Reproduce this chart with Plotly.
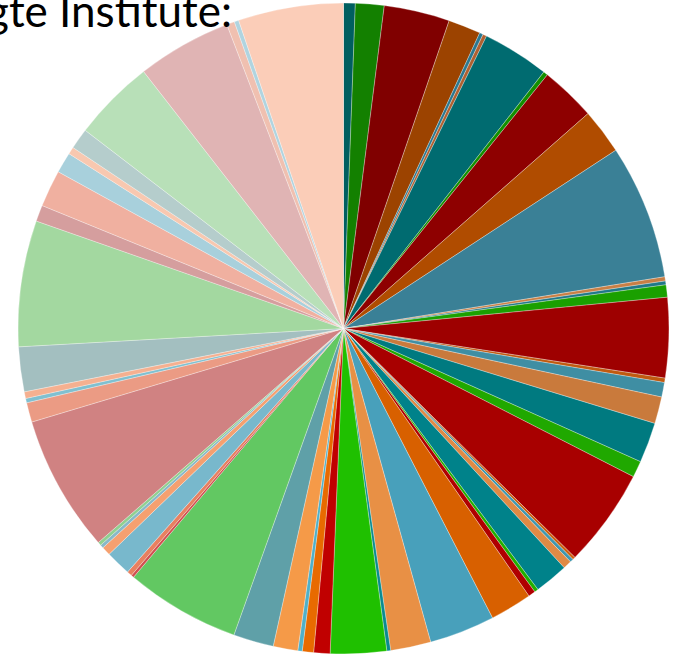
import plotly.graph_objects as go

# slice values (percent of total), clockwise from 12 o'clock
values = [0.58, 1.42, 3.26, 1.61, 0.18, 0.19, 3.31, 0.22, 2.75, 2.25,
          6.68, 0.21, 0.19, 0.61, 3.97, 0.22, 0.72, 1.33, 2.00, 0.81,
          4.89, 0.14, 0.17, 0.42, 1.67, 0.19, 0.35, 2.08, 3.25, 2.00,
          0.19, 2.78, 0.81, 0.56, 0.22, 1.22, 2.00, 5.69, 0.14, 0.25,
          1.25, 0.44, 0.17, 0.17, 6.78, 0.97, 0.22, 0.33, 2.22, 6.25,
          0.81, 1.83, 1.03, 0.36, 1.03, 4.06, 4.69, 0.39, 0.22, 5.22]

colors = ["#005f60", "#138000", "#800000", "#9c4300", "#2a7890", "#b06030", "#006b70", "#139000", "#8e0000", "#b04c00",
          "#3a8096", "#c87f45", "#207888", "#1aa000", "#9e0000", "#c05a10", "#3f8ea3", "#c97a3c", "#007a80", "#20a800",
          "#a80000", "#d06010", "#4098b0", "#e08a45", "#00828a", "#20b000", "#b00000", "#d86000", "#48a0bb", "#e89045",
          "#0a8a90", "#1fc000", "#c00000", "#e86a00", "#50b0c8", "#f59a48", "#5fa0a8", "#62c862", "#d05050", "#e88060",
          "#78b8cc", "#f5a070", "#88b8c8", "#90d090", "#d08282", "#eb9b84", "#80c0d0", "#f5b090", "#a3bfc0", "#a3d8a0",
          "#d59e9e", "#f0b0a0", "#a8d0dc", "#f8c8b0", "#b5cdcc", "#b8e0b8", "#e0b4b4", "#f0c0b0", "#b0d4e0", "#fbcdb8"]

labels = ["Item %02d" % (i + 1) for i in range(len(values))]

title_text = "gte Institute:"

W, H = 679, 654

fig = go.Figure(go.Pie(
    labels=labels,
    values=values,
    sort=False,
    direction="clockwise",
    rotation=0,
    textinfo="none",
    hoverinfo="label+percent",
    marker=dict(colors=colors, line=dict(color="white", width=0.3)),
    domain=dict(x=[18 / W, 669 / W], y=[0, 651 / H]),
))

fig.add_annotation(
    text=title_text, xref="paper", yref="paper",
    x=234 / W, xanchor="right", y=1 - 38 / H, yanchor="bottom",
    showarrow=False, font=dict(family="Lato", size=44, color="black"),
)

fig.update_layout(
    width=W, height=H,
    margin=dict(l=0, r=0, t=0, b=0),
    showlegend=False,
    paper_bgcolor="white", plot_bgcolor="white",
)

fig.write_html("out.html")
